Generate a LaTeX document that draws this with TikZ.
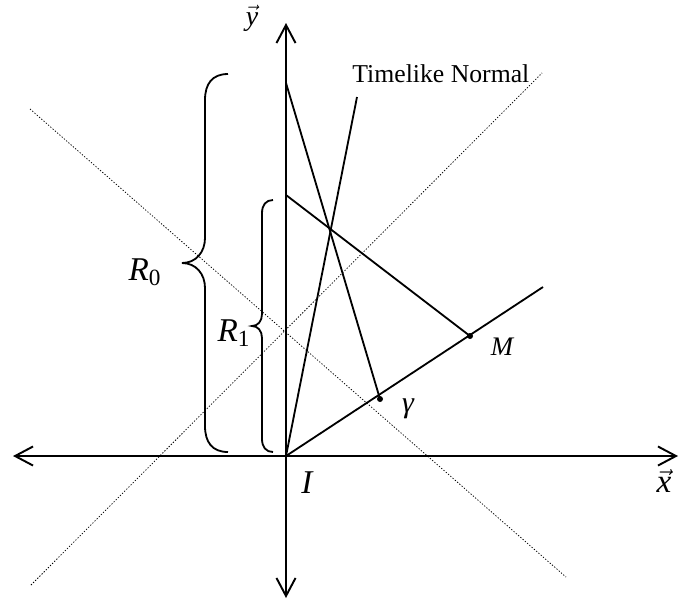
\documentclass[tikz,border=0pt]{standalone}
\usepackage{fontspec}
\setmainfont{Liberation Serif}
\usepackage{tikz}
\usetikzlibrary{arrows.meta}

\begin{document}
\begin{tikzpicture}[
    x=0.4667pt, y=-0.4667pt,
    axis/.style={black, line width=0.9pt, {Straight Barb[length=8.4pt, width=8.9pt, line width=0.9pt]}-{Straight Barb[length=8.4pt, width=8.9pt, line width=0.9pt]}},
    segment/.style={black, line width=0.85pt},
    lightcone/.style={black, line width=0.35pt, dash pattern=on 0.6pt off 0.8pt},
    brace/.style={black, line width=0.85pt},
    pointdot/.style={fill=black, circle, inner sep=0pt, minimum size=2.8pt},
    biglabel/.style={font=\fontsize{15.5}{18}\selectfont\itshape, inner sep=0pt},
    smalllabel/.style={font=\fontsize{12.5}{14}\selectfont\itshape, inner sep=0pt}
]
\useasboundingbox (0,0) rectangle (680,606);
\coordinate (I) at (286,456);
\coordinate (xl) at (13,456);
\coordinate (xr) at (678,456);
\coordinate (yt) at (286,23);
\coordinate (yb) at (286,598);
\coordinate (a) at (286,83);
\coordinate (b) at (286,195);
\coordinate (n) at (357,97);
\coordinate (e) at (543,287);
\coordinate (c1) at (31,585);
\coordinate (c2) at (542,73);
\coordinate (c3) at (30,109);
\coordinate (c4) at (566,577);
\node[pointdot] (M) at (470,336) {};
\node[pointdot] (g) at (380,399) {};
\draw[lightcone] (c1) -- (c2);
\draw[lightcone] (c3) -- (c4);
\draw[axis] (xl) -- (xr);
\draw[axis] (yb) -- (yt);
\draw[segment] (I) -- (e);
\draw[segment] (I) -- (n);
\draw[segment] (a) -- (g.center);
\draw[segment] (b) -- (M.center);
\draw[brace] (228,74) .. controls (212,74) and (205,84) .. (205,100) -- (205,238)
    .. controls (205,252) and (196,263) .. (182,263)
    .. controls (196,263) and (205,274) .. (205,288) -- (205,426)
    .. controls (205,442) and (212,452) .. (228,452);
\draw[brace] (273,200) .. controls (266,200) and (262,205) .. (262,213) -- (262,314)
    .. controls (262,321) and (258,326) .. (252,326)
    .. controls (258,326) and (262,331) .. (262,338) -- (262,439)
    .. controls (262,447) and (266,452) .. (273,452);
\node[anchor=base west, font=\fontsize{12}{14}\selectfont, inner sep=0pt] (tn) at (352,82) {Timelike Normal};
\node[font=\fontsize{13}{15}\selectfont, inner sep=0pt] (ylab) at (252,18) {$\vec{\mbox{\textit{y}}}$};
\node[font=\fontsize{15.5}{18}\selectfont, inner sep=0pt] (xlab) at (664,481) {$\vec{\mbox{\textit{x}}}$};
\node[biglabel] (Ilab) at (307,483) {I};
\node[smalllabel] (Mlab) at (502,347) {M};
\node[font=\fontsize{14}{16}\selectfont\itshape, inner sep=0pt] (glab) at (408,409) {γ};
\node[biglabel] (R0) at (145,272) {R\textsubscript{\upshape 0}};
\node[biglabel] (R1) at (234,333) {R\textsubscript{\upshape 1}};
\end{tikzpicture}
\end{document}
